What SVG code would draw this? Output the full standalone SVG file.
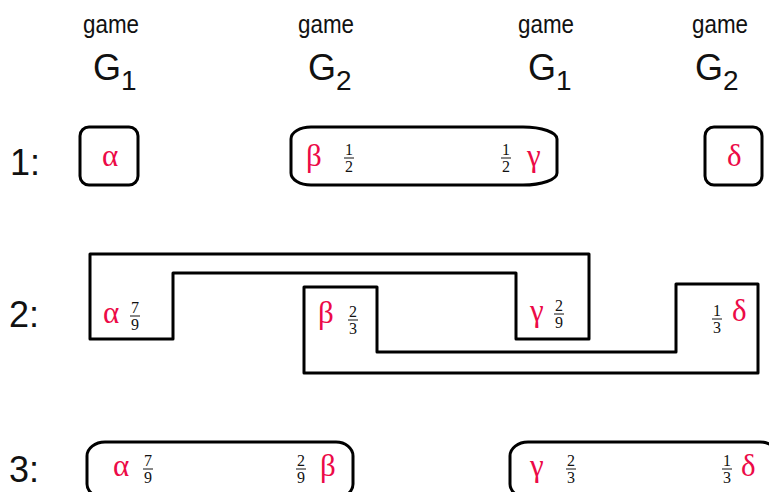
<svg xmlns="http://www.w3.org/2000/svg" width="769" height="492" viewBox="0 0 769 492">
<style>
.hd{font-family:"Liberation Sans",Arial,sans-serif;fill:#111;}
.game{font-size:25px;}
.G{font-size:36px;}
.sub{font-size:28px;}
.row{font-family:"Liberation Sans",Arial,sans-serif;font-size:36px;fill:#111;}
.gr{font-family:"Liberation Serif","Times New Roman",serif;font-size:31px;fill:#ec0a47;}
.fr{font-family:"Liberation Serif","Times New Roman",serif;font-size:16px;fill:#111;text-anchor:middle;}
.box{fill:none;stroke:#000;stroke-width:3;stroke-linejoin:round;}
.fl{stroke:#111;stroke-width:1;}
</style>
<rect width="769" height="492" fill="#fff"/>
<g id="headers">
<text class="hd game" x="83" y="33" textLength="56" lengthAdjust="spacingAndGlyphs">game</text>
<text class="hd G" x="93" y="80">G</text><text class="hd sub" x="121" y="90">1</text>
<text class="hd game" x="298" y="33" textLength="56" lengthAdjust="spacingAndGlyphs">game</text>
<text class="hd G" x="308" y="80">G</text><text class="hd sub" x="336" y="90">2</text>
<text class="hd game" x="518" y="33" textLength="56" lengthAdjust="spacingAndGlyphs">game</text>
<text class="hd G" x="528" y="80">G</text><text class="hd sub" x="556" y="90">1</text>
<text class="hd game" x="692" y="33" textLength="56" lengthAdjust="spacingAndGlyphs">game</text>
<text class="hd G" x="695" y="80">G</text><text class="hd sub" x="723" y="90">2</text>
</g>
<g id="rowlabels">
<text class="row" x="10" y="175">1:</text>
<text class="row" x="9" y="327">2:</text>
<text class="row" x="9" y="482">3:</text>
</g>
<g id="row1">
<g id="r1-alpha">
<rect class="box" x="80" y="127" width="58" height="58" rx="9"/>
<text class="gr" x="102" y="166">α</text>
</g>
<g id="r1-betagamma">
<path class="box" d="M311,127 H523 A34,12 0 0 1 557,139 V173 A34,12 0 0 1 523,185 H311 A20,12 0 0 1 291,173 V139 A20,12 0 0 1 311,127 Z"/>
<text class="gr" x="306" y="166">β</text>
<text class="fr" x="349" y="155">1</text><line class="fl" x1="344" y1="158" x2="354" y2="158"/><text class="fr" x="349" y="172">2</text>
<text class="fr" x="506" y="155">1</text><line class="fl" x1="501" y1="158" x2="511" y2="158"/><text class="fr" x="506" y="172">2</text>
<text class="gr" x="527" y="166">γ</text>
</g>
<g id="r1-delta">
<rect class="box" x="705" y="127" width="57" height="58" rx="9"/>
<text class="gr" x="727" y="166">δ</text>
</g>
</g>
<g id="row2">
<g id="r2-alphagamma">
<path class="box" d="M90,254 H589 V339 H516 V273 H173 V339 H90 Z"/>
<text class="gr" x="103" y="323">α</text>
<text class="fr" x="135" y="313">7</text><line class="fl" x1="130" y1="316" x2="140" y2="316"/><text class="fr" x="135" y="330">9</text>
<text class="gr" x="530" y="321">γ</text>
<text class="fr" x="559" y="311">2</text><line class="fl" x1="554" y1="314" x2="564" y2="314"/><text class="fr" x="559" y="328">9</text>
</g>
<g id="r2-betadelta">
<path class="box" d="M304,287 H377 V352 H676 V284 H758 V373 H304 Z"/>
<text class="gr" x="318" y="323">β</text>
<text class="fr" x="353" y="317">2</text><line class="fl" x1="348" y1="320" x2="358" y2="320"/><text class="fr" x="353" y="334">3</text>
<text class="fr" x="717" y="316">1</text><line class="fl" x1="712" y1="319" x2="722" y2="319"/><text class="fr" x="717" y="333">3</text>
<text class="gr" x="732" y="321">δ</text>
</g>
</g>
<g id="row3">
<g id="r3-alphabeta">
<path class="box" d="M105,442 H336 A17,14 0 0 1 353,456 V484 A17,14 0 0 1 336,498 H105 A18,14 0 0 1 87,484 V456 A18,14 0 0 1 105,442 Z"/>
<text class="gr" x="113" y="476">α</text>
<text class="fr" x="148" y="466">7</text><line class="fl" x1="143" y1="469" x2="153" y2="469"/><text class="fr" x="148" y="483">9</text>
<text class="fr" x="301" y="466">2</text><line class="fl" x1="296" y1="469" x2="306" y2="469"/><text class="fr" x="301" y="483">9</text>
<text class="gr" x="320" y="476">β</text>
</g>
<g id="r3-gammadelta">
<path class="box" d="M528,442 H760 A18,14 0 0 1 778,456 V484 A18,14 0 0 1 760,498 H528 A18,14 0 0 1 510,484 V456 A18,14 0 0 1 528,442 Z"/>
<text class="gr" x="530" y="476">γ</text>
<text class="fr" x="571" y="466">2</text><line class="fl" x1="566" y1="469" x2="576" y2="469"/><text class="fr" x="571" y="483">3</text>
<text class="fr" x="727" y="466">1</text><line class="fl" x1="722" y1="469" x2="732" y2="469"/><text class="fr" x="727" y="483">3</text>
<text class="gr" x="741" y="476">δ</text>
</g>
</g>
<g id="connectors"/>
</svg>
